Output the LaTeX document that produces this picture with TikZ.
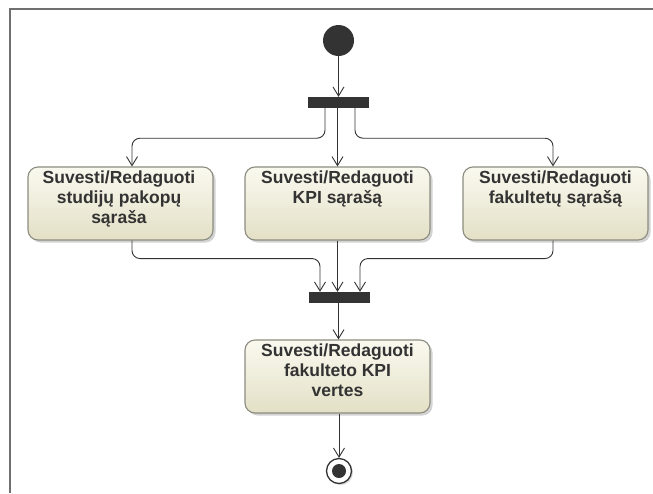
\documentclass[tikz,border=0pt]{standalone}
\usepackage{fontspec}
\setmainfont{Liberation Sans}
\usetikzlibrary{arrows.meta,shadows}
\definecolor{inkdark}{HTML}{333333}
\definecolor{edgegray}{HTML}{8C8C80}
\definecolor{boxtop}{HTML}{FAF9EF}
\definecolor{boxbot}{HTML}{E3E0C6}
\definecolor{framegray}{HTML}{707070}
\begin{document}
\begin{tikzpicture}[x=1pt,y=-1pt,
  action/.style={draw=edgegray,line width=1.1pt,rounded corners=10pt,
    top color=boxtop,bottom color=boxbot,
    minimum width=185pt,minimum height=73pt,inner sep=0pt,
    drop shadow={shadow xshift=2.5pt,shadow yshift=-2.5pt,opacity=0.35}},
  caption/.style={anchor=north,align=center,inner sep=0pt,text=inkdark,
    font=\fontsize{17.5}{20}\selectfont\bfseries},
  bar/.style={fill=inkdark,draw=none,minimum width=61pt,minimum height=11pt,inner sep=0pt},
  flow/.style={draw=inkdark,line width=0.9pt,rounded corners=8pt,
    -{Straight Barb[length=9pt,width=11pt,line width=0.9pt]}}
]
\useasboundingbox (0,0) rectangle (653,493);
% diagram frame (only its top and left edges are in view)
\draw[framegray,line width=1.8pt] (10,493) -- (10,9) -- (653,9);

% initial node
\node[circle,fill=inkdark,minimum size=31pt,inner sep=0pt] (start) at (338.5,40.5) {};
% fork
\node[bar] (fork) at (338.5,102.5) {};
% actions
\node[action] (b1) at (120.5,203.5) {};
\node[action] (b2) at (337.5,203.5) {};
\node[action] (b3) at (555.5,203.5) {};
\node[caption] (t1) at (119,171) {Suvesti/Redaguoti\\studijų pakopų\\sąraša};
\node[caption] (t2) at (337.5,171) {Suvesti/Redaguoti\\KPI sąrašą};
\node[caption] (t3) at (555.5,171) {Suvesti/Redaguoti\\fakultetų sąrašą};
% join
\node[bar] (join) at (339.5,297.5) {};
% final action
\node[action] (b4) at (337.5,376.5) {};
\node[caption] (t4) at (337.5,344) {Suvesti/Redaguoti\\fakulteto KPI\\vertes};
% final node
\node[circle,draw=inkdark,line width=1.3pt,fill=white,minimum size=25pt,inner sep=0pt,
  drop shadow={shadow xshift=1.5pt,shadow yshift=-1.5pt,opacity=0.3}] (end) at (339,471) {};
\node[circle,fill=inkdark,minimum size=14pt,inner sep=0pt] (enddot) at (end.center) {};

% port points on the bars
\coordinate (forkmid) at ([xshift=-1pt]fork.south);
\coordinate (joinmid) at ([xshift=-1pt]join.south);

% control flows
\draw[flow] (start) -- (fork.north -| start);
\draw[flow] ([xshift=-13.5pt]fork.south) -- ++(0,30) -| ([xshift=11.5pt]b1.north);
\draw[flow] (forkmid) -- (forkmid |- b2.north);
\draw[flow] ([xshift=16.5pt]fork.south) -- ++(0,30) -| ([xshift=-2.5pt]b3.north);
\draw[flow] ([xshift=11.5pt]b1.south) -- ++(0,18) -| ([xshift=-19.5pt]join.north);
\draw[flow] (b2.south) -- (join.north -| b2.south);
\draw[flow] ([xshift=-2.5pt]b3.south) -- ++(0,18) -| ([xshift=20.5pt]join.north);
\draw[flow] (joinmid) -- (joinmid |- b4.north);
\draw[flow] ([xshift=1.5pt]b4.south) -- (end.north);
\end{tikzpicture}
\end{document}
